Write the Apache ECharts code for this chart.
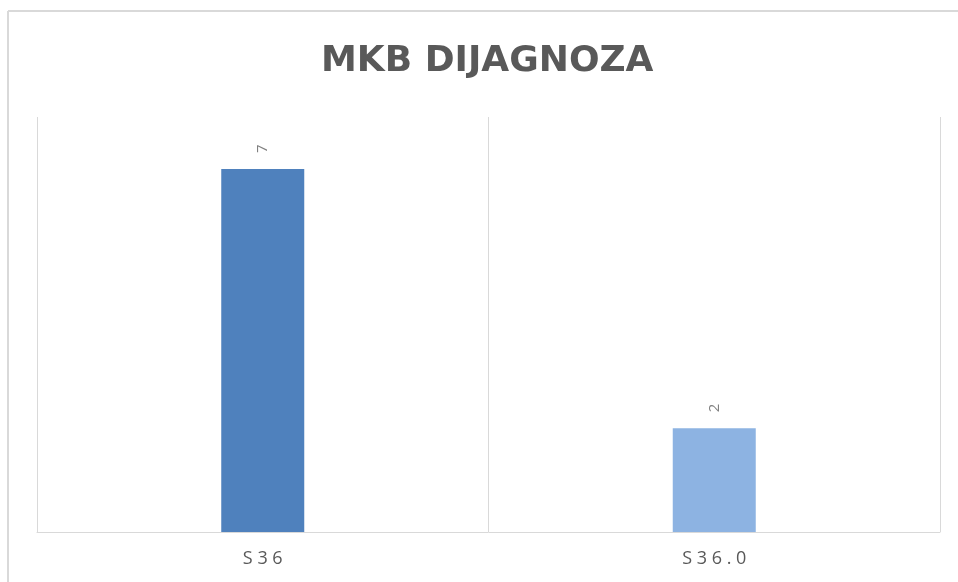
<!DOCTYPE html>
<html lang="hr">
<head>
    <meta charset="UTF-8">
    <title>MKB dijagnoza</title>
    <script src="https://cdn.jsdelivr.net/npm/echarts@6/dist/echarts.min.js"></script>
    <style>
        html, body { margin: 0; padding: 0; background: #fff; overflow: hidden; }
        #main { width: 958px; height: 582px; }
    </style>
</head>
<body>
<div id="main"></div>
<script>
    // podaci
    const categories = ['S36', 'S36.0'];
    const values = [7, 2];
    const barColors = ['#4f81bd', '#8db3e2'];

    const myChart = echarts.init(document.getElementById('main'));

    const option = {
        backgroundColor: '#fff',
        animation: false,
        title: {
            text: 'MKB DIJAGNOZA',
            left: 316,
            top: 39,
            textStyle: {
                fontFamily: 'DejaVu Sans',
                fontWeight: 'bold',
                fontSize: 36,
                color: '#595959'
            }
        },
        // okvir grafikona: vide se samo gornji i lijevi rub
        graphic: [{
            type: 'line',
            shape: { x1: 8, y1: 11, x2: 8, y2: 600 },
            style: { stroke: '#d9d9d9', lineWidth: 2 },
            silent: true
        }, {
            type: 'line',
            shape: { x1: 8, y1: 11, x2: 1000, y2: 11 },
            style: { stroke: '#d9d9d9', lineWidth: 2 },
            silent: true
        }],
        grid: { left: 37, right: 18, top: 117, bottom: 50 },
        xAxis: {
            type: 'category',
            data: categories,
            axisLine: { lineStyle: { color: '#d9d9d9', width: 1 } },
            axisTick: { show: false },
            splitLine: { show: true, lineStyle: { color: '#d9d9d9', width: 1 } },
            axisLabel: {
                fontFamily: 'Open Sans',
                fontSize: 18,
                color: '#595959',
                margin: 18,
                formatter: v => v.split('').join(' ')
            }
        },
        yAxis: {
            type: 'value',
            min: 0,
            max: 8,
            show: false
        },
        series: [{
            type: 'bar',
            barWidth: 83,
            data: values.map((v, i) => ({ value: v, itemStyle: { color: barColors[i] } })),
            label: {
                show: true,
                position: 'top',
                rotate: 90,
                align: 'left',
                verticalAlign: 'middle',
                distance: 16,
                fontFamily: 'Open Sans',
                fontSize: 15,
                color: '#808080'
            }
        }]
    };

    myChart.setOption(option);
</script>
</body>
</html>
